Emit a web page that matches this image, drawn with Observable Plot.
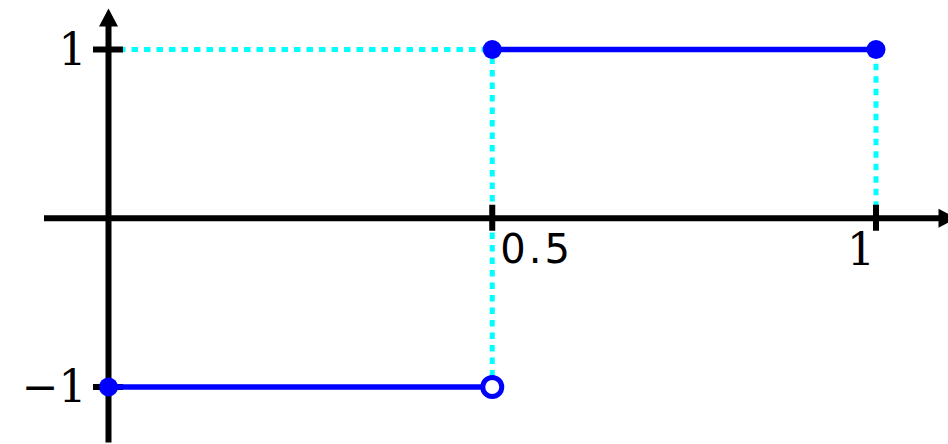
<!DOCTYPE html>
<html>
<head>
<meta charset="utf-8">
<script src="https://cdn.jsdelivr.net/npm/d3@7"></script>
<script src="https://cdn.jsdelivr.net/npm/@observablehq/plot@0.6"></script>
<style>
  html, body { margin: 0; padding: 0; background: #fff; }
  #chart svg { display: block; }
  g[font-family="DejaVu Sans"] text { letter-spacing: 3px; }
</style>
</head>
<body>
<div id="chart"></div>
<script>
// Step function: f(x) = -1 on [0, 0.5), f(x) = 1 on [0.5, 1]
const breakpoints = [0, 0.5, 1];
const levels = [-1, 1];
const xTicks = [0.5, 1];
const xTickLabels = ["0.5", "1"];
const yTicks = [1, -1];
const yTickLabels = ["1", "\u22121"];

// Frame geometry (pixels)
const W = 948, H = 444;
const originX = 108, unitX = 767.5;
const originY = 217.75, unitY = 168.75;
const xDomain = [-originX / unitX, (W - originX) / unitX];
const yDomain = [originY / unitY, -(H - originY) / unitY];
const px = (p) => (p - originX) / unitX;
const py = (p) => (originY - p) / unitY;

// Segments, endpoints and guide lines derived from the step data
const segments = levels.map((v, i) => ({x1: breakpoints[i], x2: breakpoints[i + 1], y: v}));
const lastSeg = segments[segments.length - 1];
const closedDots = [...segments.map((s) => ({x: s.x1, y: s.y})), {x: lastSeg.x2, y: lastSeg.y}];
const openDots = segments.slice(0, -1).map((s) => ({x: s.x2, y: s.y}));
const maxLevel = d3.max(levels);
const firstTop = segments.find((s) => s.y === maxLevel);
const guides = [
  {x1: 0, y1: maxLevel, x2: firstTop.x1, y2: maxLevel},
  ...segments.slice(1).map((s, i) => ({x1: s.x1, y1: levels[i], x2: s.x1, y2: s.y})),
  {x1: lastSeg.x2, y1: 0, x2: lastSeg.x2, y2: lastSeg.y}
];

// Filled arrow heads, tip at the symbol origin
const arrowUp = {draw(ctx) { ctx.moveTo(0, 0); ctx.lineTo(9.5, 18); ctx.lineTo(-9.5, 18); ctx.closePath(); }};
const arrowRight = {draw(ctx) { ctx.moveTo(0, 0); ctx.lineTo(-18, -9.5); ctx.lineTo(-18, 9.5); ctx.closePath(); }};

const chart = Plot.plot({
  width: W,
  height: H,
  margin: 0,
  x: {domain: xDomain, range: [0, W], axis: null},
  y: {domain: yDomain, range: [0, H], axis: null},
  marks: [
    // dotted guides
    Plot.link(guides, {x1: "x1", y1: "y1", x2: "x2", y2: "y2", stroke: "#00ffff", strokeWidth: 5, strokeDasharray: "6.5 6", strokeDashoffset: 2}),
    // axes
    Plot.ruleY([0], {x1: px(44), x2: px(944), stroke: "black", strokeWidth: 6}),
    Plot.ruleX([0], {y1: py(442.5), y2: py(16), stroke: "black", strokeWidth: 6}),
    Plot.dot([{x: px(956), y: 0}], {x: "x", y: "y", symbol: arrowRight, fill: "black", stroke: "none"}),
    Plot.dot([{x: 0, y: py(8)}], {x: "x", y: "y", symbol: arrowUp, fill: "black", stroke: "none"}),
    // ticks
    Plot.ruleX(xTicks, {x: (d) => d, y1: 0, y2: 0, insetTop: -13, insetBottom: -13, stroke: "black", strokeWidth: 6}),
    Plot.ruleY(yTicks, {y: (d) => d, x1: 0, x2: 0, insetLeft: -15, insetRight: -15, stroke: "black", strokeWidth: 6}),
    // tick labels
    Plot.text(yTicks, {x: 0, y: (d) => d, text: (d, i) => yTickLabels[i], textAnchor: "end", dx: -22, dy: 1, fontFamily: "DejaVu Serif", fontSize: 44, fill: "black"}),
    Plot.text([xTicks[0]], {x: (d) => d, y: 0, text: () => xTickLabels[0], textAnchor: "start", dx: 8, dy: 32, fontFamily: "DejaVu Sans", fontSize: 40, fill: "black"}),
    Plot.text([xTicks[1]], {x: (d) => d, y: 0, text: () => xTickLabels[1], textAnchor: "end", dx: -1, dy: 33, fontFamily: "DejaVu Serif", fontSize: 44, fill: "black"}),
    // the function
    Plot.link(segments, {x1: "x1", x2: "x2", y1: "y", y2: "y", stroke: "#0000ff", strokeWidth: 5.5}),
    Plot.dot(closedDots, {x: "x", y: "y", r: 9.5, fill: "#0000ff", stroke: "none"}),
    Plot.dot(openDots, {x: "x", y: "y", r: 9.5, fill: "white", stroke: "#0000ff", strokeWidth: 5})
  ]
});
document.getElementById("chart").appendChild(chart);
</script>
</body>
</html>
